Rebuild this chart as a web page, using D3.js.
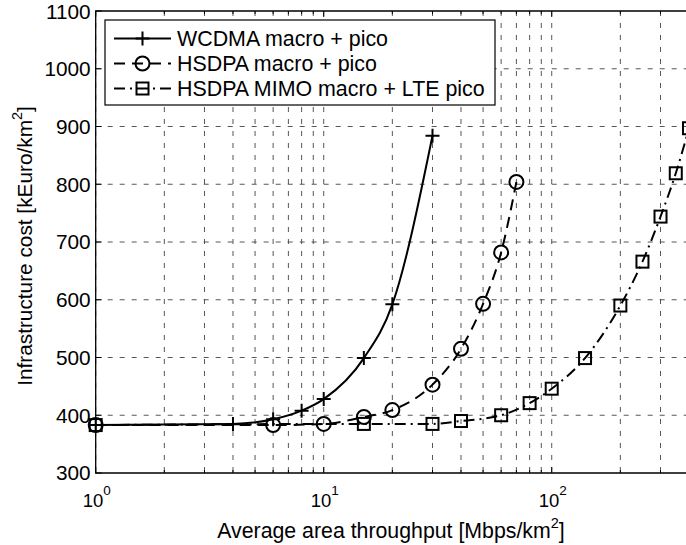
<!DOCTYPE html>
<html><head><meta charset="utf-8">
<script src="https://cdn.jsdelivr.net/npm/d3@7"></script>
<style>body{margin:0;background:#fff;overflow:hidden} text{font-family:"Liberation Sans",Arial,Helvetica,sans-serif;fill:#000}</style>
</head><body><svg id="c" width="686" height="545"></svg>
<script>
// ---- data ----
const wcdmaX=[1,4,6,8,10,15,20,30];
const wcdmaY=[383,385,393,408,428,499,592,884];
const hsdpaX=[1,6,10,15,20,30,40,50,60,70];
const hsdpaY=[383,383,385,397,409,453,515,593,682,804];
const mimoX=[1,15,30,40,60,80,100,140,200,250,300,350,400];
const mimoY=[383,385,385,390,400,421,446,499,590,666,744,819,897];
const seriesNames=["WCDMA macro + pico","HSDPA macro + pico","HSDPA MIMO macro + LTE pico"];
const yTicks=[300,400,500,600,700,800,900,1000,1100];
const xMajor=[1,10,100];
const xMajorExp=["0","1","2"];
const xMinor=[2,3,4,5,6,7,8,9,20,30,40,50,60,70,80,90,200,300,400];
const xDomain=[1,400];
const yDomain=[300,1100];

// ---- layout ----
const L=95.7,R=689,T=11,B=473;
const svg=d3.select("#c");
const x=d3.scaleLog().domain(xDomain).range([L,R]);
const y=d3.scaleLinear().domain(yDomain).range([B,T]);

// grid
const g=svg.append("g");
g.selectAll(".vg").data(xMajor.concat(xMinor)).join("line")
 .attr("x1",d=>x(d)).attr("x2",d=>x(d)).attr("y1",T).attr("y2",B)
 .attr("stroke","#444").attr("stroke-width",0.9).attr("stroke-dasharray","5,7");
g.selectAll(".hg").data(yTicks.slice(1,-1)).join("line")
 .attr("x1",L).attr("x2",R).attr("y1",d=>y(d)).attr("y2",d=>y(d))
 .attr("stroke","#444").attr("stroke-width",0.9).attr("stroke-dasharray","5,7");

// ticks
const tk=svg.append("g").attr("stroke","#000").attr("stroke-width",1);
yTicks.forEach(v=>{tk.append("line").attr("x1",L).attr("x2",L+6).attr("y1",y(v)).attr("y2",y(v));});
xMajor.forEach(v=>{
 tk.append("line").attr("x1",x(v)).attr("x2",x(v)).attr("y1",B).attr("y2",B-6);
 tk.append("line").attr("x1",x(v)).attr("x2",x(v)).attr("y1",T).attr("y2",T+6);});
xMinor.forEach(v=>{
 tk.append("line").attr("x1",x(v)).attr("x2",x(v)).attr("y1",B).attr("y2",B-3);
 tk.append("line").attr("x1",x(v)).attr("x2",x(v)).attr("y1",T).attr("y2",T+3);});

// axes box
svg.append("path").attr("d",`M${R+5},${T}H${L}V${B}H${R+5}`).attr("fill","none").attr("stroke","#000").attr("stroke-width",1.3);

// tick labels
svg.selectAll(".yl").data(yTicks).join("text")
 .attr("x",L-5).attr("y",d=>y(d)).attr("dy","0.36em").attr("text-anchor","end")
 .attr("font-size",20.8).text(d=>d);
xMajor.forEach((v,i)=>{
 const t=svg.append("text").attr("x",x(v)+1).attr("y",507).attr("text-anchor","middle").attr("font-size",18.5);
 t.append("tspan").text("10");
 t.append("tspan").attr("font-size",13.5).attr("dy",-12).text(xMajorExp[i]);
});

// axis labels
const xl=svg.append("text").attr("x",391).attr("y",538).attr("text-anchor","middle").attr("font-size",21.3);
xl.append("tspan").text("Average area throughput [Mbps/km");
xl.append("tspan").attr("font-size",14.5).attr("dy",-10).text("2");
xl.append("tspan").attr("dy",10).text("]");
const yl=svg.append("text").attr("transform",`translate(32,246) rotate(-90)`).attr("text-anchor","middle").attr("font-size",20.8);
yl.append("tspan").text("Infrastructure cost [kEuro/km");
yl.append("tspan").attr("font-size",14.5).attr("dy",-10).text("2");
yl.append("tspan").attr("dy",10).text("]");

// series
const styles=[
 {xs:wcdmaX,ys:wcdmaY,dash:null,marker:"plus"},
 {xs:hsdpaX,ys:hsdpaY,dash:"11,7",marker:"circle"},
 {xs:mimoX,ys:mimoY,dash:"11,5,2,5",marker:"square"}];
const line=d3.line().x(d=>x(d[0])).y(d=>y(d[1])).curve(d3.curveMonotoneX);
function drawMarker(sel,type,cx,cy){
 if(type==="plus"){
  sel.append("path").attr("d",`M${cx-7},${cy}H${cx+7}M${cx},${cy-7}V${cy+7}`).attr("stroke","#000").attr("stroke-width",2).attr("fill","none");
 }else if(type==="circle"){
  sel.append("circle").attr("cx",cx).attr("cy",cy).attr("r",7).attr("stroke","#000").attr("stroke-width",2).attr("fill","none");
 }else{
  sel.append("rect").attr("x",cx-6).attr("y",cy-6).attr("width",12).attr("height",12).attr("stroke","#000").attr("stroke-width",2).attr("fill","none");
 }
}
styles.forEach(s=>{
 const pts=s.xs.map((v,i)=>[v,s.ys[i]]);
 svg.append("path").datum(pts).attr("d",line).attr("fill","none").attr("stroke","#000")
  .attr("stroke-width",2).attr("stroke-dasharray",s.dash);
 const mg=svg.append("g");
 pts.forEach(p=>drawMarker(mg,s.marker,x(p[0]),y(p[1])));
});

// legend
const lg=svg.append("g");
lg.append("rect").attr("x",105).attr("y",20).attr("width",390).attr("height",85).attr("fill","#fff").attr("stroke","#000").attr("stroke-width",1.2);
styles.forEach((s,i)=>{
 const ly=38.5+i*25;
 lg.append("line").attr("x1",114).attr("x2",171).attr("y1",ly).attr("y2",ly).attr("stroke","#000").attr("stroke-width",2)
  .attr("stroke-dasharray",s.dash);
 drawMarker(lg,s.marker,142.5,ly);
 lg.append("text").attr("x",177).attr("y",ly).attr("dy","0.36em").attr("font-size",21.4).text(seriesNames[i]);
});
</script></body></html>
